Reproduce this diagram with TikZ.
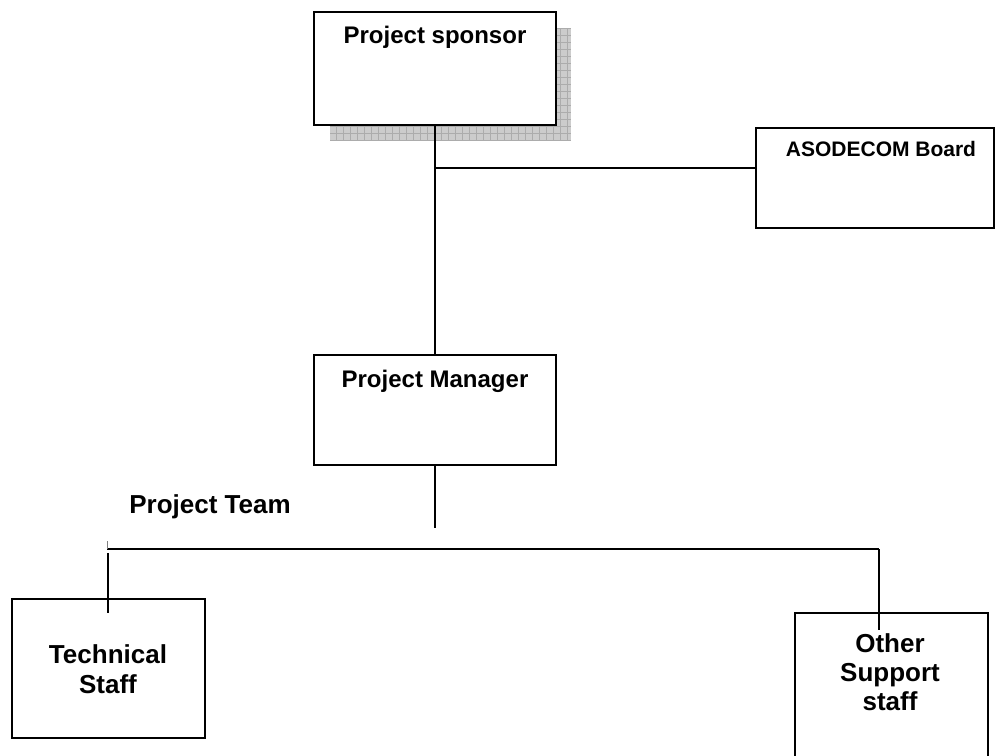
\documentclass[tikz,border=0pt]{standalone}
\usepackage{fontspec}
\setmainfont{Liberation Sans}
\begin{document}
\begin{tikzpicture}[x=1pt,y=-1pt,
  boxstyle/.style={draw=black,line width=1.6pt,fill=white,rectangle,inner sep=0pt},
  conn/.style={draw=black,line width=1.5pt},
  lbl/.style={font=\bfseries,align=center,inner sep=0pt}]
\useasboundingbox (0,0) rectangle (995,755);
% shadow of sponsor box
\fill[gray!40] (330,28) rectangle (571,140);
\draw[gray!65,line width=0.5pt,step=7pt] (330,28) grid (571,140);
\clip (0,0) rectangle (995,755);
% boxes
\node[boxstyle,minimum width=242pt,minimum height=113pt] (ps) at (435,68.5) {};
\node[boxstyle,minimum width=242pt,minimum height=110pt] (pm) at (435,410) {};
\node[boxstyle,minimum width=238pt,minimum height=100pt] (ab) at (875,178) {};
\node[boxstyle,minimum width=193pt,minimum height=139pt] (ts) at (108.5,668.5) {};
\node[boxstyle,minimum width=193pt,minimum height=160pt] (os) at (891.5,693) {};
% texts
\node[lbl,font=\fontsize{24}{28}\selectfont\bfseries] (tps) at (435,37) {Project sponsor};
\node[lbl,font=\fontsize{24}{28}\selectfont\bfseries] (tpm) at (435,381) {Project Manager};
\node[lbl,font=\fontsize{21}{25}\selectfont\bfseries] (tab) at (881,149) {ASODECOM Board};
\node[lbl,font=\fontsize{26}{30}\selectfont\bfseries] (tpt) at (210,507) {Project Team};
\node[lbl,font=\fontsize{26}{30}\selectfont\bfseries] (tts) at (108,669) {Technical\\Staff};
\node[lbl,font=\fontsize{26}{29}\selectfont\bfseries] (tos) at (890,672) {Other\\Support\\staff};
% connectors
\coordinate (j1) at (435,168);
\coordinate (j2) at (435,528);
\coordinate (tl) at (107,549);
\coordinate (tr) at (879,549);
\draw[conn] (ps.south) -- (pm.north);
\draw[conn] (j1) -- (ab.west |- j1);
\draw[conn] (pm.south) -- (j2);
\draw[conn] (tl) -- (tr);
\draw[gray,line width=1pt] (tl) -- ++(0,-8);
\draw[conn] (108,553) -- (108,613);
\draw[conn] (tr) -- (879,630);
\end{tikzpicture}
\end{document}
